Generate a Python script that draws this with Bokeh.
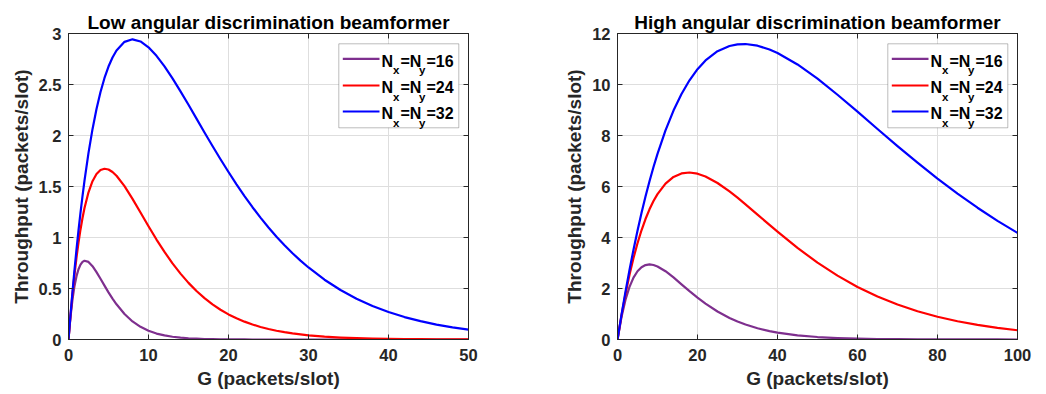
from bokeh.plotting import figure
from bokeh.layouts import row
from bokeh.models import LinearAxis, Range1d, BoxAnnotation, Label, FixedTicker
from bokeh.embed import file_html
from bokeh.resources import INLINE

# ---------------- data ----------------
G_low = [0, 0.25, 0.5, 0.75, 1, 1.25, 1.5, 1.75, 2, 2.5, 3, 3.5, 4, 4.5, 5, 5.5, 6,
         7, 8, 9, 10, 11, 12, 13, 14, 15, 16, 17, 18, 19, 20, 21, 22, 23, 24, 25,
         26, 27, 28, 29, 30, 32, 34, 36, 38, 40, 42, 44, 46, 48, 50]
low_16 = [0, 0.222, 0.394, 0.525, 0.621, 0.689, 0.734, 0.761, 0.772, 0.761, 0.719,
          0.661, 0.596, 0.528, 0.462, 0.401, 0.345, 0.250, 0.177, 0.124, 0.086,
          0.058, 0.040, 0.027, 0.018, 0.012, 0.008, 0.005, 0.003, 0.002, 0.002,
          0.001, 0.001, 0, 0, 0, 0, 0, 0, 0, 0,
          0, 0, 0, 0, 0, 0, 0, 0, 0, 0]
low_24 = [0, 0.237, 0.448, 0.636, 0.803, 0.950, 1.079, 1.191, 1.289, 1.443, 1.552,
          1.622, 1.661, 1.674, 1.667, 1.642, 1.605, 1.503, 1.379, 1.245, 1.110,
          0.980, 0.859, 0.746, 0.646, 0.555, 0.475, 0.405, 0.344, 0.292, 0.246,
          0.208, 0.175, 0.147, 0.123, 0.103, 0.086, 0.072, 0.060, 0.050, 0.041,
          0.028, 0.019, 0.013, 0.009, 0.006, 0.004, 0.003, 0.002, 0.001, 0.001]
low_32 = [0, 0.242, 0.470, 0.683, 0.883, 1.069, 1.244, 1.406, 1.558, 1.829, 2.062,
          2.260, 2.426, 2.564, 2.676, 2.765, 2.834, 2.918, 2.943, 2.922, 2.865,
          2.781, 2.678, 2.560, 2.433, 2.301, 2.165, 2.030, 1.897, 1.767, 1.642,
          1.521, 1.406, 1.297, 1.195, 1.098, 1.008, 0.924, 0.846, 0.773, 0.706,
          0.586, 0.485, 0.400, 0.329, 0.270, 0.220, 0.180, 0.146, 0.119, 0.097]

G_high = [0, 1, 2, 3, 4, 5, 6, 7, 8, 9, 10, 12, 14, 16, 18, 20, 22, 25, 28, 30, 32,
          35, 38, 40, 45, 50, 55, 60, 65, 70, 75, 80, 85, 90, 95, 100]
high_16 = [0, 0.883, 1.558, 2.062, 2.426, 2.676, 2.834, 2.918, 2.943, 2.922, 2.865,
           2.678, 2.433, 2.165, 1.897, 1.642, 1.406, 1.098, 0.846, 0.706, 0.586,
           0.441, 0.329, 0.270, 0.162, 0.097, 0.057, 0.033, 0.019, 0.011, 0.006,
           0.004, 0.002, 0.001, 0.001, 0.000]
high_24 = [0, 0.945, 1.787, 2.535, 3.195, 3.775, 4.283, 4.724, 5.104, 5.429, 5.702,
           6.115, 6.376, 6.512, 6.548, 6.502, 6.393, 6.138, 5.808, 5.561, 5.302,
           4.899, 4.494, 4.229, 3.593, 3.013, 2.504, 2.062, 1.687, 1.371, 1.109,
           0.893, 0.716, 0.573, 0.457, 0.363]
high_32 = [0, 0.969, 1.877, 2.728, 3.523, 4.266, 4.960, 5.605, 6.206, 6.763, 7.280,
           8.198, 8.977, 9.628, 10.165, 10.600, 10.943, 11.305, 11.511, 11.574,
           11.587, 11.522, 11.373, 11.236, 10.786, 10.227, 9.598, 8.934, 8.256,
           7.586, 6.936, 6.312, 5.722, 5.168, 4.654, 4.181]

series_names = ["16", "24", "32"]
series_colors = ["#7E2F8E", "#FF0000", "#0000FF"]

low_xticks = [0, 10, 20, 30, 40, 50]
low_yticks = [0, 0.5, 1, 1.5, 2, 2.5, 3]
low_ytick_labels = ["0", "0.5", "1", "1.5", "2", "2.5", "3"]
high_xticks = [0, 20, 40, 60, 80, 100]
high_yticks = [0, 2, 4, 6, 8, 10, 12]
high_ytick_labels = ["0", "2", "4", "6", "8", "10", "12"]

titles = ["Low angular discrimination beamformer", "High angular discrimination beamformer"]
x_label = "G (packets/slot)"
y_label = "Throughput (packets/slot)"

# ---------------- style ----------------
FONT = "Liberation Sans"
DARK = "#262626"
GRID = "#dedede"
TICK_FS = "16.5px"
LABEL_FS = "19px"
FRAME_W, FRAME_H = 400, 306


def make_panel(title, xs, ys_list, xmax, ymax, xticks, yticks, ylabels,
               width, left, right):
    p = figure(width=width, height=394, output_backend="svg", toolbar_location=None,
               x_range=Range1d(0, xmax), y_range=Range1d(0, ymax),
               min_border_left=left, min_border_right=right,
               min_border_top=33, min_border_bottom=55,
               background_fill_color="white", border_fill_color="white")
    p.outline_line_color = DARK
    p.outline_line_width = 1

    p.title.text = title
    p.title.align = "center"
    p.title.text_font = FONT
    p.title.text_font_style = "bold"
    p.title.text_font_size = LABEL_FS
    p.title.text_color = "#000000"
    p.title.standoff = 2

    for ys, c in zip(ys_list, series_colors):
        p.line(xs, ys, line_color=c, line_width=2.2, line_join="round")

    xt = FixedTicker(ticks=xticks, minor_ticks=[])
    yt = FixedTicker(ticks=yticks, minor_ticks=[])
    overrides = {v: s for v, s in zip(yticks, ylabels)}

    for ax in p.xaxis:
        ax.ticker = xt
        ax.axis_label = x_label
        ax.major_label_standoff = 9
        ax.axis_label_standoff = 4
    for ax in p.yaxis:
        ax.ticker = yt
        ax.major_label_overrides = overrides
        ax.axis_label = y_label
        ax.major_label_standoff = 7
        ax.axis_label_standoff = 4
    for ax in list(p.xaxis) + list(p.yaxis):
        ax.axis_line_color = DARK
        ax.major_tick_line_color = DARK
        ax.major_tick_in = 5
        ax.major_tick_out = 0
        ax.minor_tick_line_color = None
        ax.major_label_text_font = FONT
        ax.major_label_text_font_style = "bold"
        ax.major_label_text_font_size = TICK_FS
        ax.major_label_text_color = DARK
        ax.axis_label_text_font = FONT
        ax.axis_label_text_font_style = "bold"
        ax.axis_label_text_font_size = LABEL_FS
        ax.axis_label_text_color = DARK

    # box ticks on top and right (no labels)
    top = LinearAxis(ticker=xt, major_label_overrides={v: "" for v in xticks})
    rgt = LinearAxis(ticker=yt, major_label_overrides={v: "" for v in yticks})
    for ax in (top, rgt):
        ax.axis_line_color = DARK
        ax.major_tick_line_color = DARK
        ax.major_tick_in = 5
        ax.major_tick_out = 0
        ax.minor_tick_line_color = None
        ax.major_label_standoff = 0
        ax.major_label_text_font_size = "1px"
    p.add_layout(top, "above")
    p.add_layout(rgt, "right")

    p.xgrid.ticker = xt
    p.ygrid.ticker = yt
    p.xgrid.grid_line_color = GRID
    p.ygrid.grid_line_color = GRID

    # legend (drawn in screen units relative to the frame)
    bl, br, bt, bb = 270.3, 390.3, FRAME_H - 10.3, FRAME_H - 94.3
    p.add_layout(BoxAnnotation(left=bl, right=br, top=bt, bottom=bb,
                               left_units="screen", right_units="screen",
                               top_units="screen", bottom_units="screen",
                               fill_color="white", fill_alpha=1.0,
                               line_color=DARK, line_width=1, level="annotation"))
    row_centers = [25.3, 52.0, 78.0]
    for rc, name, c in zip(row_centers, series_names, series_colors):
        yc = FRAME_H - rc
        p.add_layout(BoxAnnotation(left=274.3, right=311.0, top=yc + 1.1, bottom=yc - 1.1,
                                   left_units="screen", right_units="screen",
                                   top_units="screen", bottom_units="screen",
                                   fill_color=c, fill_alpha=1.0, line_alpha=0,
                                   level="annotation"))
        base = yc - 2.4
        parts = [("N", 313.0, base, "16px"), ("x", 324.6, base - 8.6, "11.5px"),
                 ("=N", 332.0, base, "16px"), ("y", 350.6, base - 8.6, "11.5px"),
                 ("=" + name, 358.0, base, "16px")]
        for txt, x, y, fs in parts:
            p.add_layout(Label(x=x, y=y, x_units="screen", y_units="screen", text=txt,
                               text_font=FONT, text_font_style="bold",
                               text_font_size=fs, text_color="#000000",
                               text_baseline="alphabetic", text_align="left",
                               level="annotation"))
    return p


p1 = make_panel(titles[0], G_low, [low_16, low_24, low_32], 50, 3,
                low_xticks, low_yticks, low_ytick_labels, 523, 68, 55)
p2 = make_panel(titles[1], G_high, [high_16, high_24, high_32], 100, 12,
                high_xticks, high_yticks, high_ytick_labels, 523, 94, 29)

layout = row(p1, p2)
open("out.html", "w").write(file_html(layout, INLINE))
